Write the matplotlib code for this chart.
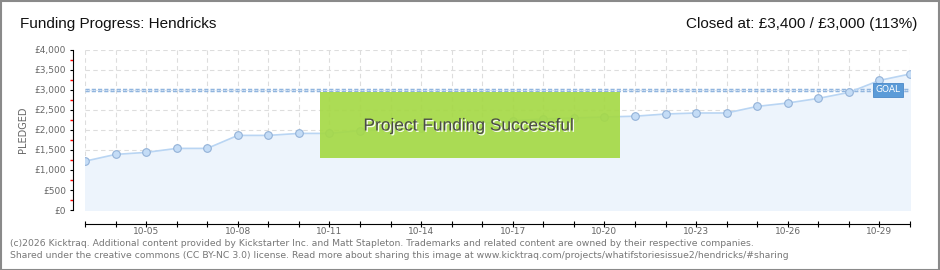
import matplotlib
matplotlib.use("Agg")
import matplotlib.pyplot as plt
from matplotlib.patches import Rectangle
from matplotlib.ticker import FixedLocator
import matplotlib.patheffects as pe

# datos
fechas = ["10-03", "10-04", "10-05", "10-06", "10-07", "10-08", "10-09",
          "10-10", "10-11", "10-12", "10-13", "10-14", "10-15", "10-16",
          "10-17", "10-18", "10-19", "10-20", "10-21", "10-22", "10-23",
          "10-24", "10-25", "10-26", "10-27", "10-28", "10-29", "10-30"]
pledged = [1220, 1390, 1440, 1540, 1540, 1865, 1865, 1915, 1915, 1985,
           2010, 2050, 2100, 2160, 2230, 2275, 2300, 2325, 2345, 2400,
           2425, 2425, 2590, 2675, 2790, 2940, 3240, 3400]
meta = 3000
yticks = [0, 500, 1000, 1500, 2000, 2500, 3000, 3500, 4000]
ytick_labels = ["£0", "£500", "£1,000", "£1,500", "£2,000", "£2,500",
                "£3,000", "£3,500", "£4,000"]

plt.rcParams['font.family'] = ['Liberation Sans', 'DejaVu Sans']

fig = plt.figure(figsize=(9.4, 2.7), dpi=100)
W, H = 940, 270

# borde gris
fig.add_artist(Rectangle((0.5 / W, 0.5 / H), 1 - 1.5 / W, 1 - 1.5 / H,
                         transform=fig.transFigure, fill=False,
                         edgecolor="#8a8a8a", linewidth=1.5))

ax = fig.add_axes([85 / W, (H - 210) / H, 825 / W, 160 / H])
x = list(range(len(fechas)))
ultimo = len(fechas) - 1

ax.set_xlim(0, ultimo)
ax.set_ylim(0, 4000)

# grid
ax.set_xticks(x)
ax.set_yticks(yticks)
ax.grid(True, color="#dddddd", linestyle=(0, (4, 3)), linewidth=0.8)
ax.set_axisbelow(True)

ax.fill_between(x, pledged, 0, color="#edf4fc", zorder=1)
ax.plot(x, pledged, color="#b9d5f3", linewidth=1.2, marker="o", markersize=5.5,
        markerfacecolor="#c4dcf6", markeredgecolor="#93b2d8",
        markeredgewidth=0.8, zorder=3)

# linea de meta
ax.plot([0, ultimo], [meta, meta], color="#8fb4de",
        linewidth=2.5, linestyle=(0, (1.2, 0.6)), zorder=2)
ax.plot([0, ultimo], [meta, meta], color="#dbe8f7",
        linewidth=0.8, linestyle=(0, (1.2, 0.6)), zorder=2)
ax.text(ultimo - 0.72, meta, "GOAL", color="white", fontsize=6.5,
        ha="center", va="center", family="DejaVu Sans", zorder=6,
        bbox=dict(boxstyle="square,pad=0.3", facecolor="#5b9bd8",
                  edgecolor="#4a88c8", linewidth=0.6))

# caja verde
caja = Rectangle((320 / W, (H - 158) / H), 300 / W, 66 / H,
                 transform=fig.transFigure, facecolor="#a5d946",
                 edgecolor="none", alpha=0.92, zorder=10)
fig.add_artist(caja)
fig.text(469 / W, (H - 126) / H, "Project Funding Successful", fontsize=12.5,
         color="#4a4a4a", ha="center", va="center", zorder=11,
         path_effects=[pe.withSimplePatchShadow(offset=(1, -1),
                                                shadow_rgbFace="white",
                                                alpha=0.9)])

# ejes
for s in ["top", "right"]:
    ax.spines[s].set_visible(False)
ax.spines["left"].set_position(("outward", 9))
ax.spines["bottom"].set_position(("outward", 10))
ax.spines["left"].set_bounds(0, 4000)
ax.spines["bottom"].set_bounds(0, ultimo)
ax.spines["left"].set_color("black")
ax.spines["bottom"].set_color("black")

ax.set_yticklabels(ytick_labels, family="DejaVu Sans")
ax.set_xticklabels([f if (i - 2) % 3 == 0 else "" for i, f in enumerate(fechas)],
                   family="DejaVu Sans")
ax.yaxis.set_minor_locator(FixedLocator([250 + 500 * i for i in range(8)]))
ax.tick_params(axis="y", which="major", length=2.5, color="black",
               labelsize=6.5, labelcolor="#666666", pad=2)
ax.tick_params(axis="y", which="minor", length=2.5, color="red", width=1)
ax.tick_params(axis="x", which="major", length=5, direction="inout",
               color="black", labelsize=6.5, labelcolor="#666666", pad=0)
ax.set_ylabel("PLEDGED", fontsize=7, color="#666666", labelpad=5,
              family="DejaVu Sans")

fig.text(20 / W, (H - 24) / H, "Funding Progress: Hendricks", fontsize=11,
         color="#111111", ha="left", va="center")
fig.text(917 / W, (H - 24) / H, "Closed at: £3,400 / £3,000 (113%)",
         fontsize=11, color="#111111", ha="right", va="center")

fig.text(10 / W, (H - 243.5) / H,
         "(c)2026 Kicktraq. Additional content provided by Kickstarter Inc. and Matt Stapleton. "
         "Trademarks and related content are owned by their respective companies.",
         fontsize=6.7, color="#777777", ha="left", va="center",
         family="DejaVu Sans")
fig.text(10 / W, (H - 256) / H,
         "Shared under the creative commons (CC BY-NC 3.0) license. Read more about sharing "
         "this image at www.kicktraq.com/projects/whatifstoriesissue2/hendricks/#sharing",
         fontsize=6.7, color="#777777", ha="left", va="center",
         family="DejaVu Sans")

fig.savefig("out.png", dpi=100)
